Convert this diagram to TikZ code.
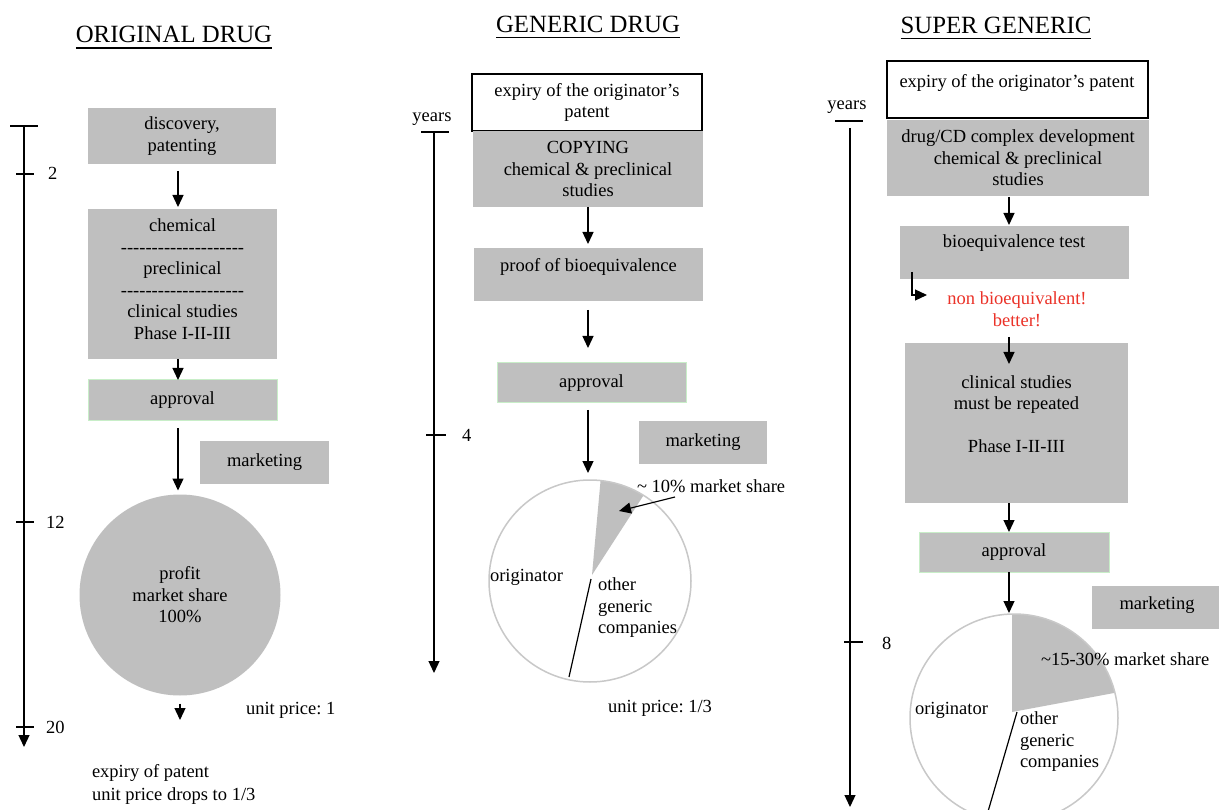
\documentclass[tikz,border=0pt]{standalone}
\usepackage{fontspec}
\setmainfont{Liberation Serif}
\usetikzlibrary{arrows.meta,calc}
\definecolor{boxgray}{RGB}{191,191,191}
\definecolor{apgreen}{RGB}{200,238,200}
\definecolor{piegray}{RGB}{200,200,200}
\definecolor{redtxt}{RGB}{235,50,40}
\newcommand\hy{\hbox{-}}
\newcommand\dashrow{\hy\hy\hy\hy\hy\hy\hy\hy\hy\hy\hy\hy\hy\hy\hy\hy\hy\hy\hy\hy}
\frenchspacing
\begin{document}
\frenchspacing
\begin{tikzpicture}[x=1pt,y=-1pt,
  font=\fontsize{18.5}{21.5}\selectfont,
  txt/.style={inner sep=0pt, outer sep=0pt, text=black},
  ttl/.style={inner sep=0pt, outer sep=0pt, font=\fontsize{24.8}{28}\selectfont},
  uline/.style={line width=1.7pt},
  gbox/.style={fill=boxgray, inner sep=0pt, outer sep=0pt, anchor=north west, align=center},
  wbox/.style={fill=white, draw=black, line width=1.2pt, inner sep=0pt, outer sep=0pt, anchor=north west, align=center},
  apbox/.style={gbox, draw=apgreen, line width=1pt},
  arr/.style={-{Triangle[length=12pt,width=11pt]}, line width=1.3pt},
  tickl/.style={line width=1.3pt},
  pieline/.style={line width=1.2pt},
  pieout/.style={circle, draw=piegray, line width=1.5pt, inner sep=0pt, outer sep=0pt}]
\useasboundingbox[fill=white] (0,0) rectangle (1219,810);

% ---------------- titles
\node[ttl, anchor=base] (t1) at (174,43) {ORIGINAL DRUG};
\draw[uline] ($(t1.base west)+(0,4.8)$) -- ($(t1.base east)+(0,4.8)$);
\node[ttl, anchor=base] (t2) at (588,33) {GENERIC DRUG};
\draw[uline] ($(t2.base west)+(0,4.5)$) -- ($(t2.base east)+(0,4.5)$);
\node[ttl, anchor=base] (t3) at (996,34) {SUPER GENERIC};
\draw[uline] ($(t3.base west)+(0,4.5)$) -- ($(t3.base east)+(0,4.5)$);

% ---------------- ORIGINAL DRUG
\coordinate (tl1top) at (24,126);
\coordinate (tl1end) at (24,747);
\draw[arr] (tl1top) -- (tl1end);
\draw[tickl] (10,126) -- (38,126);
\draw[tickl] (16,174) -- (34,174);
\draw[tickl] (16,522) -- (34,522);
\draw[tickl] (16,727) -- (34,727);
\node[txt, anchor=base west] (y2) at (48,180) {2};
\node[txt, anchor=base west] (y12) at (46,528) {12};
\node[txt, anchor=base west] (y20) at (46,733) {20};

\node[gbox, minimum width=188, minimum height=56] (disc) at (88,108) {discovery,\\patenting};
\node[gbox, minimum width=189, minimum height=150] (chem) at (88,209) {};
\node[txt, align=center] (chemt) at (182.5,279)
  {chemical\\\dashrow\\preclinical\\\dashrow\\clinical studies\\Phase I-II-III};
\node[apbox, minimum width=189, minimum height=41] (appr1) at (88,380) {approval};
\node[gbox, minimum width=129, minimum height=43] (mkt1) at (200,441) {marketing};
\node[circle, fill=boxgray, minimum size=201, inner sep=0pt, outer sep=0pt, align=center] (prof) at (180,595)
  {profit\\market share\\100\%};
\coordinate (end1) at (180,720);

\draw[arr] ($(disc.south)+(-4,7)$) -- ($(chem.north)+(-4.5,-2)$);
\draw[arr] ($(chem.south)+(-4.5,0)$) -- ($(appr1.north)+(-4.5,0)$);
\draw[arr] ($(appr1.south)+(-4.5,7)$) -- ($(prof.north)+(-2,-4)$);
\draw[arr] ($(prof.south)+(0,8)$) -- (end1);

\node[txt, anchor=west] (up1) at (246,710) {unit price: 1};
\node[txt, anchor=base west] (exp1) at (92,777) {expiry of patent};
\node[txt, anchor=base west] (drop1) at (92,800) {unit price drops to 1/3};

% ---------------- GENERIC DRUG
\node[txt] (yrs2) at (432,119) {years};
\coordinate (tl2top) at (434,132);
\coordinate (tl2end) at (434,673);
\draw[tickl] (421,132) -- (449,132);
\draw[arr] (tl2top) -- (tl2end);
\draw[tickl] (426,435) -- (446,435);
\node[txt, anchor=base west] (y4) at (462,442) {4};

\node[wbox, minimum width=230, minimum height=57] (exp2) at (472,74) {expiry of the originator's\\patent};
\node[gbox, minimum width=230, minimum height=76] (copy2) at (473,131) {COPYING\\chemical \& preclinical\\studies};
\node[gbox, minimum width=229, minimum height=53] (proof2) at (474,248) {};
\node[txt] (proof2t) at (588.5,267) {proof of bioequivalence};
\node[apbox, minimum width=189, minimum height=40] (appr2) at (497,363) {approval};
\node[gbox, minimum width=128, minimum height=43] (mkt2) at (639,421) {marketing};

\coordinate (pc2) at (590,581);
\fill[boxgray] (592,575) -- ($(pc2)+(-84:101)$) arc[start angle=-84, end angle=-58, radius=101] -- cycle;
\node[pieout, minimum size=202] (pie2) at (pc2) {};
\coordinate (cut2) at (569,677);
\draw[pieline] (591,579) -- (cut2);

\draw[arr] ($(copy2.south)$) -- ($(proof2.north)+(-0.5,-4)$);
\draw[arr] ($(proof2.south)+(-0.5,9)$) -- ($(appr2.north)+(-3.5,-15)$);
\draw[arr] ($(appr2.south)+(-3.5,7)$) -- ($(pie2.north)+(-2,-7)$);

\node[txt, anchor=west] (ms2) at (637,486) {\textasciitilde{} 10\% market share};
\coordinate (w2) at (619,511);
\draw[arr, line width=1.2pt] (675,497) -- (w2);
\node[txt, anchor=west] (orig2) at (490,577) {originator};
\node[txt, anchor=west, align=left] (oth2) at (598,608) {other\\generic\\companies};
\node[txt] (up2) at (660,708) {unit price: 1/3};

% ---------------- SUPER GENERIC
\node[txt] (yrs3) at (847,107) {years};
\coordinate (tl3top) at (850,128);
\coordinate (tl3end) at (850,807);
\draw[tickl] (835,121) -- (863,121);
\draw[arr] (tl3top) -- (tl3end);
\draw[tickl] (844,642) -- (863,642);
\node[txt, anchor=base west] (y8) at (882,649) {8};

\node[wbox, minimum width=261, minimum height=57] (exp3) at (887,61) {};
\node[txt] (exp3t) at (1017,83) {expiry of the originator's patent};
\node[gbox, minimum width=262, minimum height=76] (drug3) at (887,120) {drug/CD complex development\\chemical \& preclinical\\studies};
\node[gbox, minimum width=229, minimum height=53] (bio3) at (900,226) {};
\node[txt] (bio3t) at (1014,243) {bioequivalence test};
\node[txt, align=center, text=redtxt] (red3) at (1017,309) {non bioequivalent!\\better!};
\node[gbox, minimum width=223, minimum height=160] (clin3) at (905,343) {};
\node[txt, align=center] (clin3t) at (1016.5,414) {clinical studies\\must be repeated\\[21.5pt]Phase I-II-III};
\node[apbox, minimum width=190, minimum height=40] (appr3) at (919,532) {approval};
\node[gbox, minimum width=140, minimum height=43] (mkt3) at (1092,586) {};
\node[txt] (mkt3t) at (1157,605) {marketing};

\coordinate (pc3) at (1014,718);
\fill[boxgray] (1012,712) -- ($(pc3)+(-91:104)$) arc[start angle=-91, end angle=-14, radius=104] -- cycle;
\node[pieout, minimum size=208] (pie3) at (pc3) {};
\coordinate (cut3) at (987,815);
\draw[pieline] (1017,712) -- (cut3);

\coordinate (rn) at (927,295);
\coordinate (rb) at (1009,337);
\draw[arr] ($(drug3.south)+(-9,1)$) -- ($(bio3.north)+(-5.5,-1)$);
\draw[arr, line width=1.2pt] ($(bio3.south west)+(12,-7)$) |- (rn);
\draw[arr] (rb) -- ($(clin3.north)+(-7.5,21)$);
\draw[arr] ($(clin3.south)+(-7.5,0)$) -- ($(appr3.north)+(-5,0)$);
\draw[arr] ($(appr3.south)+(-5,0)$) -- ($(pie3.north)+(-5,-1)$);

\node[txt, anchor=west] (ms3) at (1041,659) {\textasciitilde15-30\% market share};
\node[txt, anchor=west] (orig3) at (915,710) {originator};
\node[txt, anchor=west, align=left] (oth3) at (1020,742) {other\\generic\\companies};
\end{tikzpicture}
\end{document}
